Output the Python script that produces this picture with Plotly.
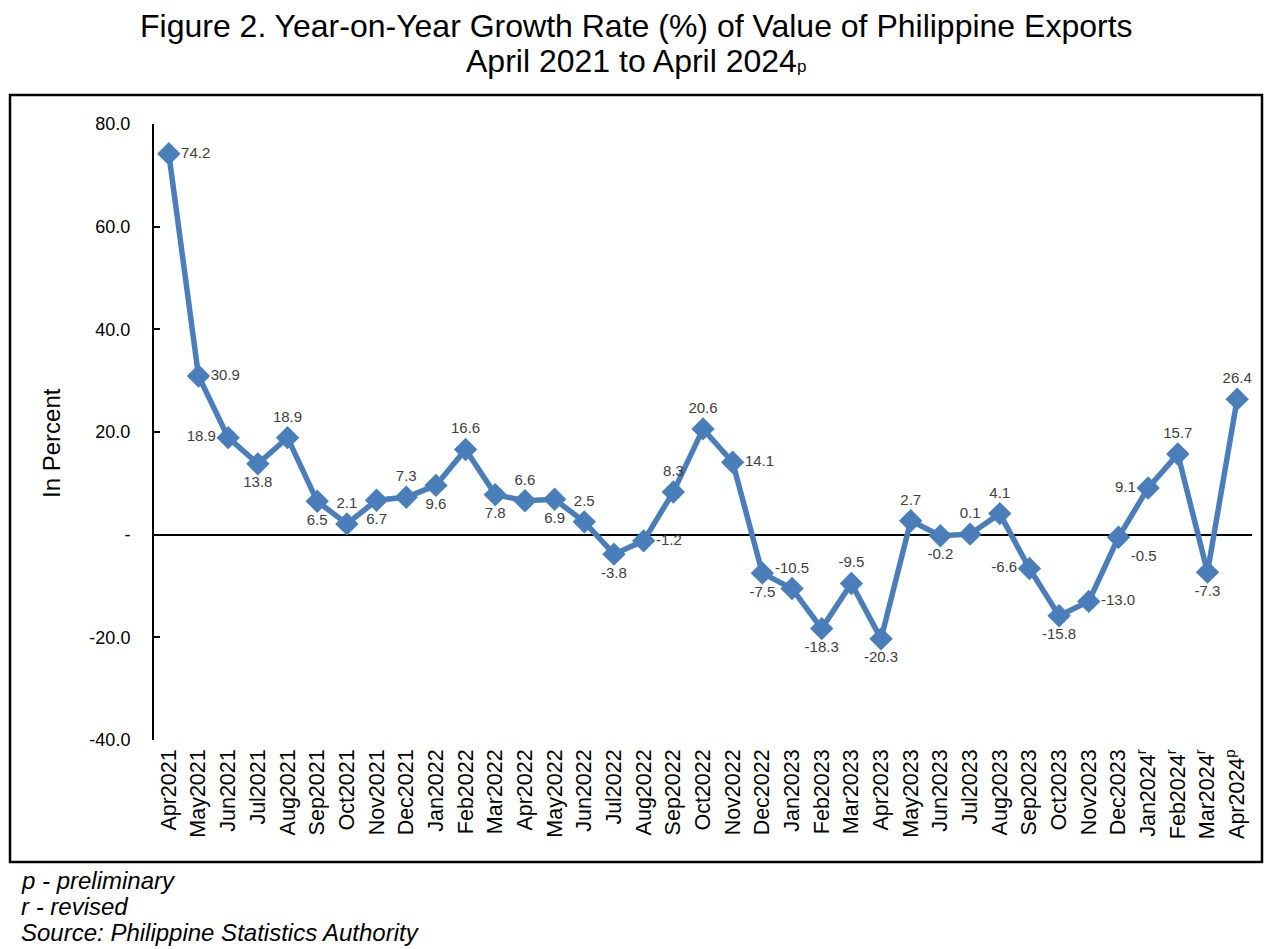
import plotly.graph_objects as go

months = ["Apr2021", "May2021", "Jun2021", "Jul2021", "Aug2021", "Sep2021", "Oct2021", "Nov2021",
          "Dec2021", "Jan2022", "Feb2022", "Mar2022", "Apr2022", "May2022", "Jun2022", "Jul2022",
          "Aug2022", "Sep2022", "Oct2022", "Nov2022", "Dec2022", "Jan2023", "Feb2023", "Mar2023",
          "Apr2023", "May2023", "Jun2023", "Jul2023", "Aug2023", "Sep2023", "Oct2023", "Nov2023",
          "Dec2023", "Jan2024<sup>r</sup>", "Feb2024<sup>r</sup>", "Mar2024<sup>r</sup>", "Apr2024<sup>p</sup>"]
growth = [74.2, 30.9, 18.9, 13.8, 18.9, 6.5, 2.1, 6.7, 7.3, 9.6, 16.6, 7.8, 6.6, 6.9, 2.5, -3.8,
          -1.2, 8.3, 20.6, 14.1, -7.5, -10.5, -18.3, -9.5, -20.3, 2.7, -0.2, 0.1, 4.1, -6.6, -15.8,
          -13.0, -0.5, 9.1, 15.7, -7.3, 26.4]
label_pos = ["middle right", "middle right", "middle left", "bottom center", "top center",
             "bottom center", "top center", "bottom center", "top center", "bottom center",
             "top center", "bottom center", "top center", "bottom center", "top center",
             "bottom center", "middle right", "top center", "top center", "middle right",
             "bottom center", "top center", "bottom center", "top center", "bottom center",
             "top center", "bottom center", "top center", "top center", "middle left",
             "bottom center", "middle right", "bottom right", "middle left", "top center",
             "bottom center", "top center"]
y_ticks = [-40, -20, 0, 20, 40, 60, 80]
y_ticktext = ["-40.0", "-20.0", "-", "20.0", "40.0", "60.0", "80.0"]

FONT = "Liberation Sans, Arial"
OFF = 8  # page body margin
W, H = 1280 - OFF, 949 - OFF
# plot area in page coords: x 154..1252, y 124..740
ml, mr, mt, mb = 154 - OFF, W - (1252 - OFF), 124 - OFF, H - (740 - OFF)
pw = W - ml - mr
ph = H - mt - mb

def px_x(p):
    return (p - OFF - ml) / pw

def px_y(p):
    return (H - mb - (p - OFF)) / ph

fig = go.Figure()
fig.add_trace(go.Scatter(
    x=list(range(len(months))), y=growth,
    mode="lines+markers+text",
    line=dict(color="#4a7ebb", width=5.5),
    marker=dict(symbol="diamond", size=18, color="#4a7ebb"),
    text=[f"{v:.1f}" for v in growth],
    textposition=label_pos,
    textfont=dict(family=FONT, size=15, color="#404040"),
    cliponaxis=False,
    showlegend=False,
))

fig.add_shape(type="rect", xref="paper", yref="paper",
              x0=px_x(10), x1=px_x(1262), y0=px_y(862), y1=px_y(95),
              line=dict(color="black", width=2.5), fillcolor="rgba(0,0,0,0)")

title_lines = ["Figure 2. Year-on-Year Growth Rate (%) of Value of Philippine Exports",
               "April 2021 to April 2024<span style=\"font-size:17px\">p</span>"]
for txt, yy in zip(title_lines, [26, 61]):
    fig.add_annotation(xref="paper", yref="paper", x=px_x(636), y=px_y(yy),
                       xanchor="center", yanchor="middle", text=txt, showarrow=False,
                       font=dict(family=FONT, size=32, color="black"))

fig.add_annotation(xref="paper", yref="paper", x=px_x(52), y=px_y(443),
                   xanchor="center", yanchor="middle", text="In Percent", textangle=-90,
                   showarrow=False, font=dict(family=FONT, size=24, color="black"))

notes = ["<i>p - preliminary</i>", "<i>r - revised</i>", "<i>Source: Philippine Statistics Authority</i>"]
for txt, yy in zip(notes, [880, 906, 932]):
    fig.add_annotation(xref="paper", yref="paper", x=px_x(19), y=px_y(yy),
                       xanchor="left", yanchor="middle", text=txt, showarrow=False,
                       font=dict(family=FONT, size=24, color="black"))

fig.update_layout(
    width=W, height=H,
    margin=dict(l=ml, r=mr, t=mt, b=mb, autoexpand=False),
    paper_bgcolor="white", plot_bgcolor="white",
    font=dict(family=FONT, color="black"),
)
fig.update_xaxes(
    range=[-0.5, len(months) - 0.5],
    tickmode="array", tickvals=list(range(len(months))), ticktext=months,
    tickangle=-90, tickfont=dict(size=21.5, color="black"),
    showline=False, showgrid=False, ticks="", zeroline=False,
    ticklabelstandoff=4, automargin=False,
)
fig.update_yaxes(
    range=[-40, 80], tickmode="array", tickvals=y_ticks, ticktext=y_ticktext,
    tickfont=dict(size=18, color="black"),
    showline=True, linecolor="black", linewidth=2,
    ticks="inside", ticklen=6, tickwidth=2, tickcolor="black",
    showgrid=False, zeroline=True, zerolinecolor="black", zerolinewidth=2,
    ticklabelstandoff=18, automargin=False,
)

fig.write_html("out.html")
